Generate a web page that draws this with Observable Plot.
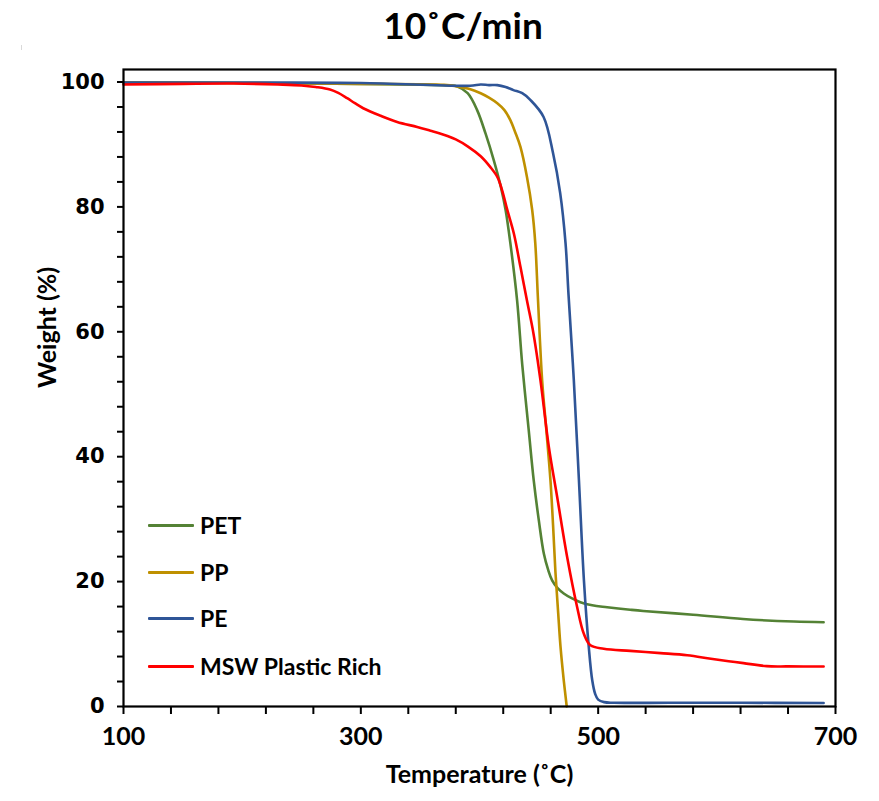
<!DOCTYPE html>
<html>
<head>
<meta charset="utf-8">
<script src="https://cdn.jsdelivr.net/npm/d3@7"></script>
<script src="https://cdn.jsdelivr.net/npm/@observablehq/plot@0.6"></script>
<style>
  html, body { margin: 0; padding: 0; background: #fff; }
  #wrap { position: relative; width: 879px; height: 801px; background: #fff; overflow: hidden; }
  #title { position: absolute; left: 0; top: 0; width: 879px; height: 50px; box-sizing: border-box; padding-left: 47px;
           text-align: center; font-family: "Lato", sans-serif; font-weight: bold; font-size: 37px; line-height: 50px; color: #000; }
  #chart { position: absolute; left: 0; top: 50px; }
  #edge { position: absolute; left: 21px; top: 45px; width: 1px; height: 756px; background: #d9d9d9; }
  .lg { position: absolute; left: 148px; height: 30px; display: flex; align-items: center;
        font-family: "Lato", sans-serif; font-weight: bold; font-size: 23px; color: #000; }
  .lg span.sw { display: inline-block; width: 46px; height: 3px; margin-right: 6px; border-radius: 1px; }
</style>
</head>
<body>
<div id="wrap">
  <div id="edge"></div>
  <div id="title">10˚C/min</div>
  <div id="chart"></div>
  <div id="legend"></div>
</div>
<script>
// ---- data ----
const seriesNames = ["PET", "PP", "PE", "MSW Plastic Rich"];
const seriesColors = ["#548235", "#BF9000", "#2F5597", "#FF0000"];

const petT = [100,200,300,350,375,381,390,398,405,412,418,422,426,431.7,436,441.5,445.7,450,454.2,458,461.2,466,471,478,485,495,507.6,527,538,580,622,665,690];
const petW = [99.9,99.85,99.7,99.55,99.45,99.3,98.2,95.5,91.8,87.5,83.2,79.5,74.2,65,54.8,44.2,36.2,29.8,24.5,21.8,20.2,18.9,18.1,17.3,16.7,16.2,15.9,15.5,15.3,14.7,14.0,13.6,13.5];

const ppT = [100,200,300,370,381,391,401,408,415,421,426,430,434.5,440,444.4,447,449.2,452.8,456,459.8,462,464,466.3,468.3,471,473.5];
const ppW = [99.9,99.85,99.7,99.55,99.3,98.9,98.2,97.5,96.6,95.5,93.9,92.0,89.6,84.8,79.5,74.2,65.5,52.2,45,36.2,29,21.5,15,9.5,4.2,0];

const peT = [100,200,300,392,401,408,415,422,428.6,436,443,454,462,468,472.5,475,479.5,483.8,488,492.1,495,497.5,500,505,513,560,620,690];
const peW = [99.9,99.9,99.85,99.4,99.6,99.5,99.5,99.2,98.7,98.2,97.1,94.4,88.6,82.2,74.2,66,52.2,36.2,20.2,9.5,4.2,2.0,1.1,0.7,0.6,0.6,0.6,0.55];

const mswT = [100,150,193,230,250,262,274,281,288.5,295,302,316.6,330.6,347.5,358.7,366,373,380,390,401,409,415,419,423.3,429,434.5,440,445.5,451.4,458.4,465.5,473.9,482.3,488,493.5,504.7,527,552.5,575,595,610,622.5,642,660,690];
const mswW = [99.6,99.7,99.75,99.6,99.45,99.2,98.8,98.25,97.4,96.6,95.8,94.6,93.6,92.8,92.2,91.8,91.35,90.8,89.7,88.1,86.4,84.8,82.7,79.6,75.7,70.4,65,59.7,52.2,41.6,33.5,23.9,15.9,11.6,9.8,9.25,8.9,8.55,8.2,7.64,7.25,6.94,6.46,6.42,6.4];

const xMajor = [100, 300, 500, 700];
const xMinor = d3.range(100, 701, 40);
const yMajor = [0, 20, 40, 60, 80, 100];
const yMinor = d3.range(0, 101, 4);
const xTitle = "Temperature (˚C)";
const yTitle = "Weight (%)";

// ---- build table ----
const rows = [];
[[petT, petW], [ppT, ppW], [peT, peW], [mswT, mswW]].forEach(([T, W], i) => {
  T.forEach((t, j) => rows.push({series: seriesNames[i], T: t, W: W[j]}));
});

const chart = Plot.plot({
  width: 879,
  height: 751,
  marginTop: 19,
  marginRight: 44,
  marginBottom: 95,
  marginLeft: 123,
  style: {background: "white", color: "black", fontFamily: "Lato"},
  x: {domain: [100, 700]},
  y: {domain: [0, 102]},
  color: {domain: seriesNames, range: seriesColors},
  marks: [
    Plot.line(rows, {x: "T", y: "W", z: "series", stroke: "series", strokeWidth: 2.6, curve: "catmull-rom"}),
    Plot.frame({stroke: "black", strokeWidth: 2.2}),
    Plot.axisX({ticks: xMinor, tickSize: 8, tickPadding: 13, strokeWidth: 2,
      tickFormat: d => xMajor.includes(d) ? String(d) : "",
      fontFamily: "Lato", fontSize: 25, fontWeight: "bold", label: null}),
    Plot.axisY({ticks: yMinor, tickSize: 6, tickPadding: 13, strokeWidth: 2,
      tickFormat: d => yMajor.includes(d) ? String(d) : "",
      fontFamily: "DejaVu Sans", fontSize: 21, fontWeight: "bold", label: null}),
    Plot.text([xTitle], {text: d => d, frameAnchor: "bottom", dy: 76, fontFamily: "Lato", fontSize: 25, fontWeight: "bold", fill: "black"}),
    Plot.text([yTitle], {text: d => d, frameAnchor: "left", dx: -76, rotate: -90, fontFamily: "Lato", fontSize: 25, fontWeight: "bold", fill: "black"})
  ]
});
document.getElementById("chart").appendChild(chart);

// ---- legend (inside plot area, HTML overlay) ----
const legendY = [525, 572, 618, 666];
const lg = document.getElementById("legend");
seriesNames.forEach((name, i) => {
  const row = document.createElement("div");
  row.className = "lg";
  row.style.top = (legendY[i] - 15) + "px";
  const sw = document.createElement("span");
  sw.className = "sw";
  sw.style.background = seriesColors[i];
  row.appendChild(sw);
  row.appendChild(document.createTextNode(name));
  lg.appendChild(row);
});
</script>
</body>
</html>
